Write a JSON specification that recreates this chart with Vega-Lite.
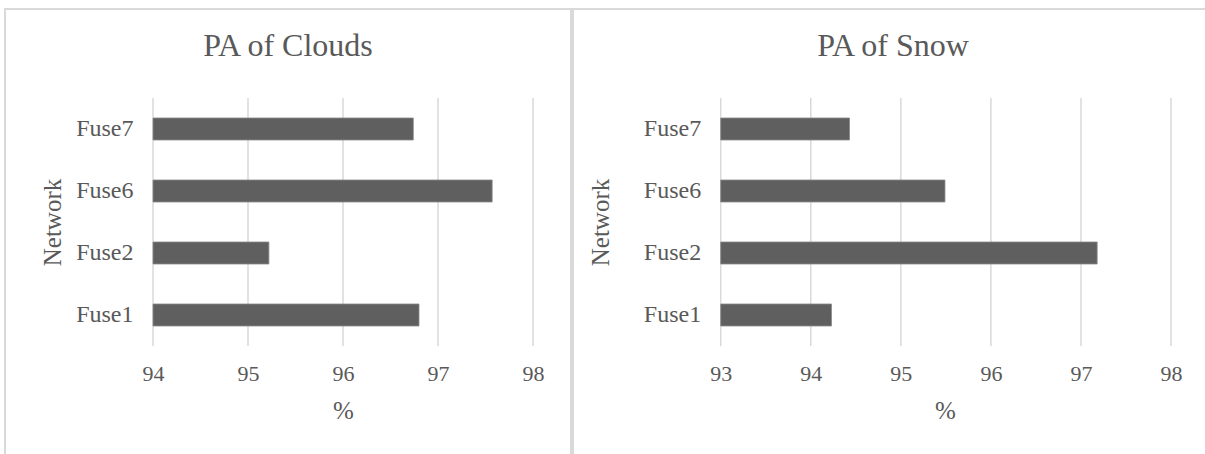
{
  "$schema": "https://vega.github.io/schema/vega-lite/v6.json",
  "padding": {"left": 4, "top": 8, "right": 0, "bottom": 0},
  "background": "white",
  "datasets": {
    "pa": [
      {"Network": "Fuse7", "Clouds": 96.74, "Snow": 94.43},
      {"Network": "Fuse6", "Clouds": 97.57, "Snow": 95.49},
      {"Network": "Fuse2", "Clouds": 95.22, "Snow": 97.18},
      {"Network": "Fuse1", "Clouds": 96.8, "Snow": 94.23}
    ],
    "gridClouds": [{"Clouds": 94}, {"Clouds": 95}, {"Clouds": 96}, {"Clouds": 97}, {"Clouds": 98}],
    "gridSnow": [{"Snow": 93}, {"Snow": 94}, {"Snow": 95}, {"Snow": 96}, {"Snow": 97}, {"Snow": 98}]
  },
  "spacing": 0,
  "hconcat": [
    {
      "width": 566,
      "height": 460,
      "title": {"text": "PA of Clouds", "offset": -79, "baseline": "alphabetic", "frame": "group", "anchor": "middle"},
      "encoding": {
        "x": {
          "field": "Clouds", "type": "quantitative",
          "scale": {"domain": [92.442, 98.4], "nice": false, "zero": false},
          "axis": {"title": "%", "values": [94, 95, 96, 97, 98], "offset": -123, "titleX": 338}
        }
      },
      "layer": [
        {
          "data": {"name": "gridClouds"},
          "mark": {"type": "rule", "color": "#d9d9d9", "strokeWidth": 1.5},
          "encoding": {
            "y": {
              "datum": "Fuse7", "type": "nominal", "bandPosition": -0.909,
              "scale": {"domain": ["Fuse7", "Fuse6", "Fuse2", "Fuse1"], "range": [89, 337], "paddingInner": 0.645, "paddingOuter": 0.3225},
              "axis": {"title": "Network", "offset": -148, "titleX": -92.5}
            },
            "y2": {"datum": "Fuse1", "bandPosition": 1.909}
          }
        },
        {
          "data": {"name": "pa"},
          "mark": {"type": "bar", "fill": "#5f5f5f", "stroke": "#8a8a8a", "strokeWidth": 0.8},
          "encoding": {
            "y": {
              "field": "Network", "type": "nominal",
              "scale": {"domain": ["Fuse7", "Fuse6", "Fuse2", "Fuse1"], "range": [89, 337], "paddingInner": 0.645, "paddingOuter": 0.3225},
              "axis": {"title": "Network", "offset": -148, "titleX": -92.5}
            },
            "x2": {"datum": 94}
          }
        }
      ]
    },
    {
      "width": 640,
      "height": 460,
      "title": {"text": "PA of Snow", "offset": -79, "baseline": "alphabetic", "frame": "group", "anchor": "middle"},
      "encoding": {
        "x": {
          "field": "Snow", "type": "quantitative",
          "scale": {"domain": [91.36, 98.466], "nice": false, "zero": false},
          "axis": {"title": "%", "values": [93, 94, 95, 96, 97, 98], "offset": -123, "titleX": 372}
        }
      },
      "layer": [
        {
          "data": {"name": "gridSnow"},
          "mark": {"type": "rule", "color": "#d9d9d9", "strokeWidth": 1.5},
          "encoding": {
            "y": {
              "datum": "Fuse7", "type": "nominal", "bandPosition": -0.909,
              "scale": {"domain": ["Fuse7", "Fuse6", "Fuse2", "Fuse1"], "range": [89, 337], "paddingInner": 0.645, "paddingOuter": 0.3225},
              "axis": {"title": "Network", "offset": -147.7, "titleX": -112.7}
            },
            "y2": {"datum": "Fuse1", "bandPosition": 1.909}
          }
        },
        {
          "data": {"name": "pa"},
          "mark": {"type": "bar", "fill": "#5f5f5f", "stroke": "#8a8a8a", "strokeWidth": 0.8},
          "encoding": {
            "y": {
              "field": "Network", "type": "nominal",
              "scale": {"domain": ["Fuse7", "Fuse6", "Fuse2", "Fuse1"], "range": [89, 337], "paddingInner": 0.645, "paddingOuter": 0.3225},
              "axis": {"title": "Network", "offset": -147.7, "titleX": -112.7}
            },
            "x2": {"datum": 93}
          }
        }
      ]
    }
  ],
  "config": {
    "view": {"stroke": "#d9d9d9", "strokeWidth": 2},
    "font": "Liberation Serif",
    "title": {"font": "Liberation Serif", "fontSize": 32, "fontWeight": "normal", "color": "#595959"},
    "axis": {
      "labelFont": "Liberation Serif",
      "labelColor": "#595959",
      "titleFont": "Liberation Serif",
      "titleFontWeight": "normal",
      "titleColor": "#595959",
      "titleFontSize": 25,
      "domain": false,
      "ticks": false,
      "grid": false
    },
    "axisX": {"labelFontSize": 22, "labelPadding": 17, "titlePadding": 14},
    "axisY": {"labelFontSize": 24, "labelPadding": 20, "titleBaseline": "alphabetic"}
  }
}
